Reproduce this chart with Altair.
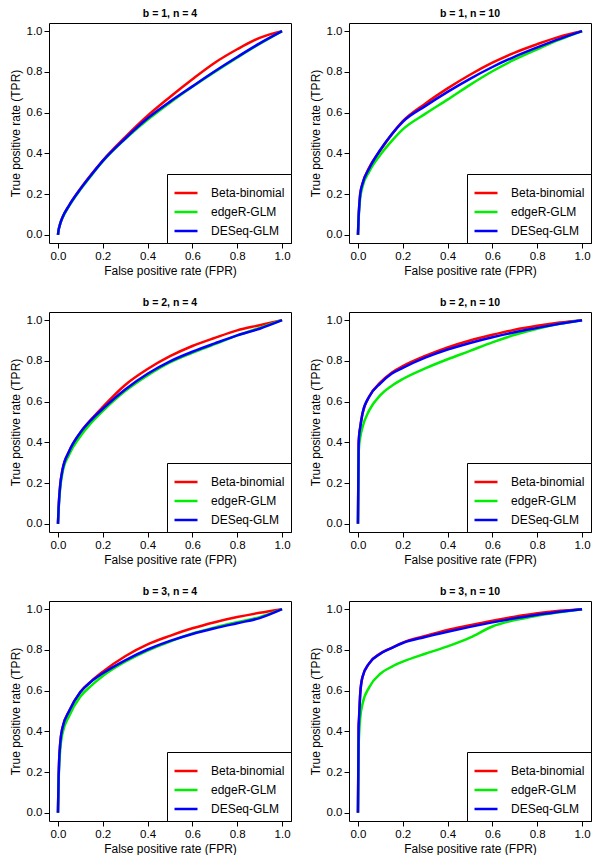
import altair as alt
import pandas as pd

FPR = [0, 0.003, 0.005, 0.01, 0.02, 0.05, 0.1, 0.15, 0.2, 0.3, 0.4, 0.5, 0.6, 0.7, 0.8, 0.9, 1.0]
METHODS = ["Beta-binomial", "edgeR-GLM", "DESeq-GLM"]
COLORS = ["#FF0000", "#00EE00", "#0000FF"]
TITLES = ["b = 1, n = 4", "b = 1, n = 10", "b = 2, n = 4", "b = 2, n = 10", "b = 3, n = 4", "b = 3, n = 10"]

# b = 1, n = 4
B1N4_BETA = [0, 0.025, 0.035, 0.055, 0.085, 0.145, 0.226, 0.298, 0.365, 0.480, 0.585, 0.677, 0.764, 0.845, 0.911, 0.967, 1.0]
B1N4_EDGER = [0, 0.025, 0.035, 0.055, 0.083, 0.142, 0.222, 0.293, 0.360, 0.470, 0.565, 0.649, 0.727, 0.800, 0.870, 0.937, 1.0]
B1N4_DESEQ = [0, 0.025, 0.035, 0.055, 0.085, 0.145, 0.225, 0.296, 0.363, 0.473, 0.572, 0.654, 0.729, 0.803, 0.873, 0.940, 1.0]
# b = 1, n = 10
B1N10_BETA = [0, 0.09, 0.13, 0.20, 0.25, 0.33, 0.415, 0.492, 0.558, 0.644, 0.719, 0.786, 0.845, 0.895, 0.936, 0.973, 1.0]
B1N10_EDGER = [0, 0.08, 0.12, 0.18, 0.235, 0.31, 0.393, 0.460, 0.518, 0.594, 0.664, 0.736, 0.803, 0.861, 0.911, 0.958, 1.0]
B1N10_DESEQ = [0, 0.09, 0.13, 0.20, 0.25, 0.326, 0.418, 0.493, 0.555, 0.632, 0.702, 0.766, 0.824, 0.875, 0.920, 0.962, 1.0]
# b = 2, n = 4
B2N4_BETA = [0, 0.08, 0.12, 0.19, 0.264, 0.356, 0.448, 0.515, 0.574, 0.682, 0.760, 0.823, 0.873, 0.913, 0.950, 0.975, 1.0]
B2N4_EDGER = [0, 0.07, 0.11, 0.175, 0.25, 0.34, 0.430, 0.498, 0.554, 0.652, 0.729, 0.793, 0.840, 0.882, 0.925, 0.962, 1.0]
B2N4_DESEQ = [0, 0.08, 0.12, 0.19, 0.264, 0.356, 0.448, 0.512, 0.565, 0.660, 0.737, 0.798, 0.845, 0.886, 0.925, 0.958, 1.0]
# b = 2, n = 10
B2N10_BETA = [0, 0.39, 0.43, 0.475, 0.54, 0.625, 0.694, 0.742, 0.774, 0.824, 0.866, 0.900, 0.928, 0.953, 0.972, 0.988, 1.0]
B2N10_EDGER = [0, 0.34, 0.38, 0.423, 0.473, 0.557, 0.632, 0.677, 0.711, 0.763, 0.808, 0.849, 0.891, 0.928, 0.958, 0.982, 1.0]
B2N10_DESEQ = [0, 0.39, 0.43, 0.473, 0.54, 0.624, 0.690, 0.737, 0.766, 0.816, 0.856, 0.888, 0.916, 0.941, 0.962, 0.982, 1.0]
# b = 3, n = 4
B3N4_BETA = [0, 0.18, 0.25, 0.34, 0.417, 0.50, 0.593, 0.648, 0.693, 0.769, 0.827, 0.869, 0.906, 0.936, 0.961, 0.982, 1.0]
B3N4_EDGER = [0, 0.16, 0.22, 0.31, 0.39, 0.476, 0.571, 0.626, 0.672, 0.742, 0.797, 0.841, 0.881, 0.910, 0.936, 0.961, 1.0]
B3N4_DESEQ = [0, 0.18, 0.25, 0.34, 0.417, 0.50, 0.593, 0.646, 0.685, 0.749, 0.802, 0.844, 0.878, 0.906, 0.931, 0.956, 1.0]
# b = 3, n = 10
B3N10_BETA = [0, 0.42, 0.466, 0.583, 0.665, 0.734, 0.783, 0.810, 0.836, 0.868, 0.898, 0.921, 0.943, 0.963, 0.980, 0.992, 1.0]
B3N10_EDGER = [0, 0.33, 0.382, 0.466, 0.533, 0.616, 0.683, 0.717, 0.742, 0.781, 0.817, 0.860, 0.915, 0.946, 0.968, 0.985, 1.0]
B3N10_DESEQ = [0, 0.42, 0.466, 0.583, 0.667, 0.734, 0.781, 0.809, 0.834, 0.863, 0.889, 0.913, 0.935, 0.955, 0.973, 0.987, 1.0]

PANELS = [
    [B1N4_BETA, B1N4_EDGER, B1N4_DESEQ],
    [B1N10_BETA, B1N10_EDGER, B1N10_DESEQ],
    [B2N4_BETA, B2N4_EDGER, B2N4_DESEQ],
    [B2N10_BETA, B2N10_EDGER, B2N10_DESEQ],
    [B3N4_BETA, B3N4_EDGER, B3N4_DESEQ],
    [B3N10_BETA, B3N10_EDGER, B3N10_DESEQ],
]

FONT = "Liberation Sans"
TICKS = [0, 0.2, 0.4, 0.6, 0.8, 1.0]
W, H = 242, 220


def make_panel(title, series):
    rows = []
    for m, vals in zip(METHODS, series):
        for f, t in zip(FPR, vals):
            rows.append({"method": m, "fpr": f, "tpr": t})
    df = pd.DataFrame(rows)
    x = alt.X("fpr:Q",
              scale=alt.Scale(domain=[-0.04, 1.04], nice=False, zero=False),
              axis=alt.Axis(values=TICKS, format=".1f", title="False positive rate (FPR)"))
    y = alt.Y("tpr:Q",
              scale=alt.Scale(domain=[-0.04, 1.04], nice=False, zero=False),
              axis=alt.Axis(values=TICKS, format=".1f", title="True positive rate (TPR)"))
    color = alt.Color("method:N",
                      scale=alt.Scale(domain=METHODS, range=COLORS),
                      legend=alt.Legend(title=None, orient="bottom-right", offset=0,
                                        strokeColor="black", fillColor="white",
                                        padding=6, symbolType="stroke",
                                        symbolStrokeWidth=2.5, symbolSize=529,
                                        labelFontSize=12, labelFont=FONT,
                                        labelColor="black", labelOffset=12,
                                        rowPadding=-9.5, cornerRadius=0))
    layers = []
    for m in METHODS:
        layers.append(
            alt.Chart(df).transform_filter(alt.datum.method == m)
            .mark_line(strokeWidth=2.5, interpolate="monotone", clip=True)
            .encode(x=x, y=y, color=color, order="fpr:Q")
        )
    return alt.layer(*layers).properties(
        width=W, height=H,
        title=alt.TitleParams(title, fontSize=10.5, fontWeight="bold", font=FONT, offset=4, color="black"))


panels = [make_panel(t, s) for t, s in zip(TITLES, PANELS)]
rows = []
for i in range(3):
    rows.append(
        alt.hconcat(panels[2 * i], panels[2 * i + 1], spacing=16)
        .resolve_scale(color="independent").resolve_legend(color="independent")
    )

chart = (
    alt.vconcat(*rows, spacing=20)
    .resolve_scale(color="independent").resolve_legend(color="independent")
    .properties(padding=0)
    .configure_view(stroke="black", strokeWidth=1)
    .configure_axis(grid=False, domain=False, tickColor="black", tickSize=5, tickWidth=1,
                    labelFont=FONT, labelFontSize=11.5, labelColor="black", labelPadding=2,
                    titleFont=FONT, titleFontSize=12, titleFontWeight="normal",
                    titleColor="black", titlePadding=4)
)

chart.save("out.html", embed_options={"renderer": "svg", "actions": False})
